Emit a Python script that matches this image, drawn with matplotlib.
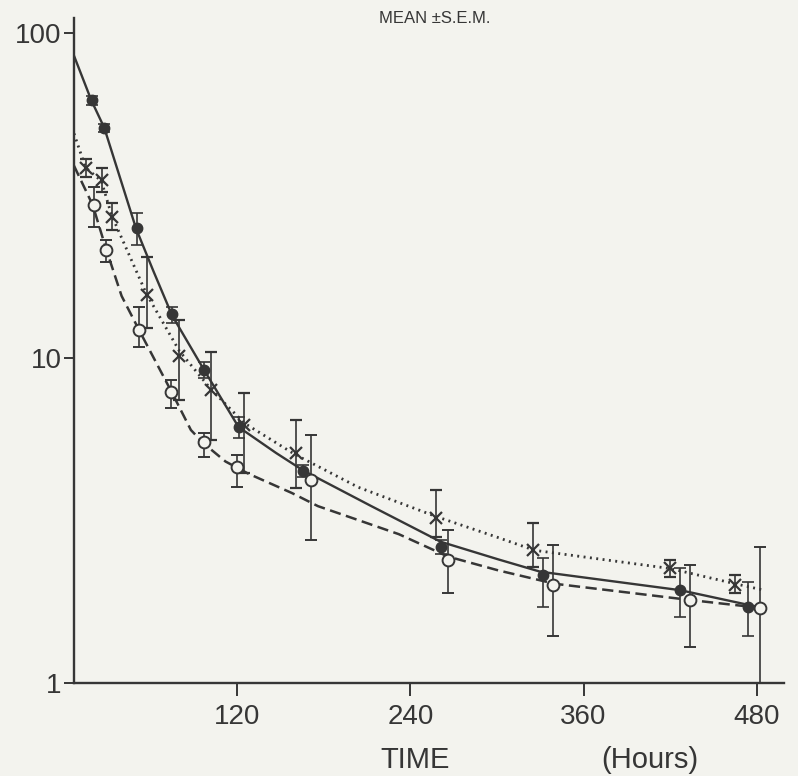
import matplotlib.pyplot as plt
from matplotlib.ticker import NullLocator

plt.rcParams['font.family'] = ['Liberation Sans', 'DejaVu Sans']

# fitted curves (hours, level)
solid_t = [7, 19, 28, 50, 62, 75, 97, 121, 147, 166, 213, 261, 301, 330, 427, 474, 485]
solid_y = [85, 62, 51, 25, 18.5, 13.5, 9.2, 6.13, 5.1, 4.5, 3.5, 2.72, 2.4, 2.2, 1.93, 1.74, 1.70]

dot_t = [7, 15, 26, 33, 57, 80, 102, 125, 160, 204, 258, 301, 326, 420, 465, 485]
dot_y = [49, 38.5, 35, 27.5, 15.8, 10.5, 8.0, 6.3, 5.05, 4.0, 3.25, 2.8, 2.56, 2.25, 2.02, 1.93]

dash_t = [7, 20, 29, 40, 52, 75, 88, 97, 112, 128, 158, 176, 204, 232, 266, 301, 340, 434, 484]
dash_y = [39, 29.5, 21.8, 15.5, 12.2, 7.8, 6.0, 5.45, 4.8, 4.4, 3.84, 3.5, 3.17, 2.87, 2.45, 2.22, 2.02, 1.80, 1.70]

# filled circles (mean, low, high)
fc_t = [19.4, 27.7, 50.5, 74.7, 96.8, 121, 166, 261, 332, 427, 474]
fc_y = [62, 51, 25.1, 13.6, 9.2, 6.13, 4.5, 2.62, 2.15, 1.93, 1.71]
fc_lo = [60, 49.5, 22.3, 12.8, 8.7, 5.67, 4.3, 2.5, 1.71, 1.6, 1.40]
fc_hi = [64, 52.5, 27.9, 14.3, 9.7, 6.6, 4.7, 2.75, 2.42, 2.26, 2.04]

# crosses
x_t = [15.2, 26.3, 33.2, 57.4, 79.5, 102, 124.5, 161, 258, 325, 420, 465]
x_y = [38.4, 35.3, 27.2, 15.6, 10.1, 7.97, 6.22, 5.1, 3.22, 2.56, 2.26, 2.0]
x_lo = [36.1, 32.4, 24.7, 12.4, 7.43, 5.6, 4.43, 3.98, 2.81, 2.27, 2.12, 1.89]
x_hi = [40.8, 38.4, 29.9, 20.5, 13.1, 10.4, 7.8, 6.44, 3.92, 3.11, 2.39, 2.15]

# open circles
oc_t = [20.7, 29.0, 51.9, 74, 97, 120, 171, 266, 339, 434, 482]
oc_y = [29.6, 21.5, 12.2, 7.86, 5.52, 4.62, 4.21, 2.39, 2.0, 1.80, 1.70]
oc_lo = [25.3, 19.7, 10.8, 7.0, 4.96, 4.0, 2.75, 1.89, 1.4, 1.29, 1.0]
oc_hi = [33.5, 23.1, 14.3, 8.55, 5.88, 5.03, 5.8, 2.96, 2.66, 2.31, 2.62]

ink = '#363636'
bg = '#f3f3ee'

fig = plt.figure(figsize=(7.98, 7.76), dpi=100, facecolor=bg)
ax = fig.add_axes([0.0927, 0.1198, 0.89, 0.857])
ax.set_facecolor(bg)
ax.set_yscale('log')

ax.plot(solid_t, solid_y, color=ink, lw=1.7, ls='-')
ax.plot(dot_t, dot_y, color=ink, lw=2.0, ls=(0, (0.7, 1.6)))
ax.plot(dash_t, dash_y, color=ink, lw=1.8, ls=(0, (4.5, 2.2)))

def bars(t, y, lo, hi, **kw):
    err = [[a - b for a, b in zip(y, lo)], [b - a for a, b in zip(y, hi)]]
    ax.errorbar(t, y, yerr=err, ls='none', ecolor=ink, elinewidth=1.2,
                capsize=4, capthick=1.2, mec=ink, zorder=3, **kw)

bars(fc_t, fc_y, fc_lo, fc_hi, marker='o', ms=7.5, mfc=ink)
bars(x_t, x_y, x_lo, x_hi, marker='x', ms=9, mew=1.6)
bars(oc_t, oc_y, oc_lo, oc_hi, marker='o', ms=8.5, mfc=bg, mew=1.4)

ax.set_xlim(7, 499)
ax.set_ylim(1, 111)
ax.set_xticks([120, 240, 360, 480], ['120', '240', '360', '480'])
ax.set_yticks([1, 10, 100], ['1', '10', '100'])
ax.yaxis.set_minor_locator(NullLocator())

for s in ['top', 'right']:
    ax.spines[s].set_visible(False)
for s in ['left', 'bottom']:
    ax.spines[s].set_color(ink)
    ax.spines[s].set_linewidth(1.7)

ax.tick_params(axis='x', length=9, width=1.4, pad=6, labelsize=20, color=ink, labelcolor=ink)
ax.tick_params(axis='y', length=7, width=1.4, pad=2, labelsize=20, color=ink, labelcolor=ink)

fig.text(0.545, 0.976, 'MEAN ±S.E.M.', ha='center', va='center', fontsize=12, color=ink)
fig.text(0.52, 0.021, 'TIME', ha='center', va='center', fontsize=21, color=ink)
fig.text(0.8145, 0.021, '(Hours)', ha='center', va='center', fontsize=21, color=ink)

fig.savefig('out.png', dpi=100, facecolor=bg)
